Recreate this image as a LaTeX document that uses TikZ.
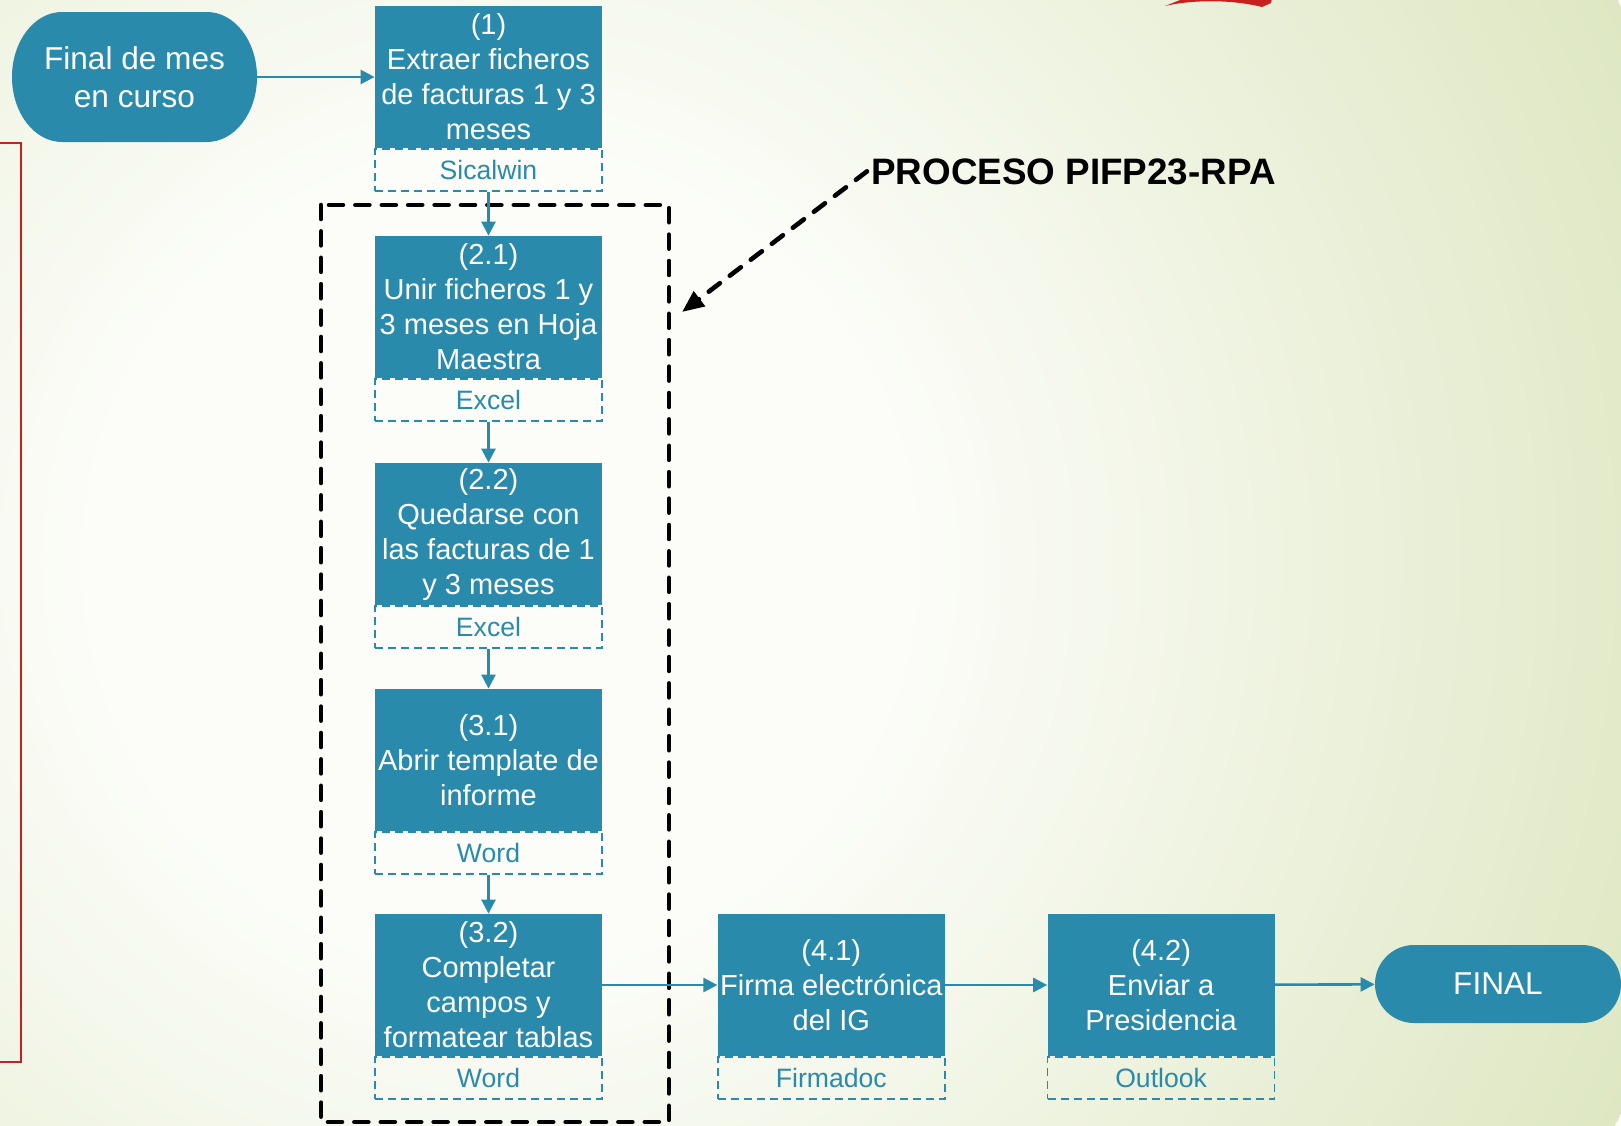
\documentclass[tikz,border=0pt]{standalone}
\usepackage{fontspec}
\setmainfont{Liberation Sans}
\usetikzlibrary{arrows.meta,calc,positioning}
\definecolor{azul}{HTML}{2A8AAC}
\definecolor{fondoA}{HTML}{FCFDF9}
\definecolor{fondoB}{HTML}{DEE7C2}
\definecolor{rojo}{HTML}{C8201E}
\pgfdeclareradialshading{fondo}{\pgfpoint{0bp}{0bp}}{color(0bp)=(fondoA); color(8bp)=(fondoA); color(25bp)=(fondoB); color(50bp)=(fondoB)}

\begin{document}
\begin{tikzpicture}[x=0.5pt,y=-0.5pt,
	paso/.style={fill=azul, text=white, minimum width=113.5pt, minimum height=71pt, inner sep=0pt, align=center, font=\fontsize{14.5}{17.5}\selectfont},
	herr/.style={draw=azul, line width=0.7pt, dash pattern=on 4pt off 2.5pt, text=azul, minimum width=113.5pt, minimum height=21pt, inner sep=0pt, font=\fontsize{13.3}{16}\selectfont},
	terminal/.style={text=white, minimum width=122.5pt, minimum height=65pt, inner sep=0pt, align=center, font=\fontsize{15.8}{19}\selectfont},
	flecha/.style={azul, line width=1.3pt, -{Triangle[length=7pt,width=7pt]}},
	borde/.style={line width=2.3pt, dash pattern=on 7pt off 6.2pt, line cap=round}]
		\useasboundingbox (0,0) rectangle (1621,1125);
		\clip (0,0) rectangle (1621,1125);
		% fondo
		\shade[shading=fondo] (500,560) circle (625pt);
		\draw[rojo, line width=1.1pt] (-10,143) rectangle (21,1062);
		\fill[rojo] (1165,6) .. controls (1190,0) and (1230,-1) .. (1262,7) -- (1271,3) -- (1272,-2) -- (1185,-2) -- cycle;

		% recuadro del proceso
		\draw[borde] (321,205) rectangle (669,1122);

		% inicio
		\fill[azul] (62,12) -- (207,12) arc [start angle=90, end angle=-90, x radius=25pt, y radius=32.5pt] --
				(62,142) arc [start angle=270, end angle=90, x radius=25pt, y radius=32.5pt] -- cycle;
		\node[terminal] (inicio) at (134.5,77) {Final de mes\\en curso};

		% pasos
		\node[paso] (p1) at (488.5,77) {(1)\\Extraer ficheros\\de facturas 1 y 3\\meses};
		\node[herr, below=0pt of p1] (p1h) {Sicalwin};
		\node[paso] (p21) at (488.5,307) {(2.1)\\Unir ficheros 1 y\\3 meses en Hoja\\Maestra};
		\node[herr, below=0pt of p21] (p21h) {Excel};
		\node[paso] (p22) at (488.5,534) {(2.2)\\Quedarse con\\las facturas de 1\\y 3 meses};
		\node[herr, below=0pt of p22] (p22h) {Excel};
		\node[paso] (p31) at (488.5,760) {(3.1)\\Abrir template de\\informe};
		\node[herr, below=0pt of p31] (p31h) {Word};
		\node[paso] (p32) at (488.5,985) {(3.2)\\Completar\\campos y\\formatear tablas};
		\node[herr, below=0pt of p32] (p32h) {Word};
		\node[paso, right=57.5pt of p32] (p41) {(4.1)\\Firma electrónica\\del IG};
		\node[herr, below=0pt of p41] (p41h) {Firmadoc};
		\node[paso, right=51pt of p41] (p42) {(4.2)\\Enviar a\\Presidencia};
		\node[herr, below=0pt of p42] (p42h) {Outlook};

		% final
		\node[terminal, fill=azul, rounded corners=19.5pt, minimum width=123pt, minimum height=39pt] (final) at (1498,984) {FINAL};

		% conectores
		\draw[flecha] (inicio) -- (p1);
		\draw[flecha] (p1h) -- (p21);
		\draw[flecha] (p21h) -- (p22);
		\draw[flecha] (p22h) -- (p31);
		\draw[flecha] (p31h) -- (p32);
		\draw[flecha] (p32) -- (p41);
		\draw[flecha] (p41) -- (p42);
		\draw[flecha] (p42) -- (final);

		% etiqueta
		\node[anchor=base west, inner sep=2pt, font=\fontsize{18.4}{22}\selectfont\bfseries] (proceso) at (867,184) {PROCESO PIFP23-RPA};
		\coordinate (puntaflecha) at (682,312);
		\draw[borde, -{Triangle[length=11pt,width=9pt]}] (proceso.west) -- (puntaflecha);
\end{tikzpicture}
\end{document}
